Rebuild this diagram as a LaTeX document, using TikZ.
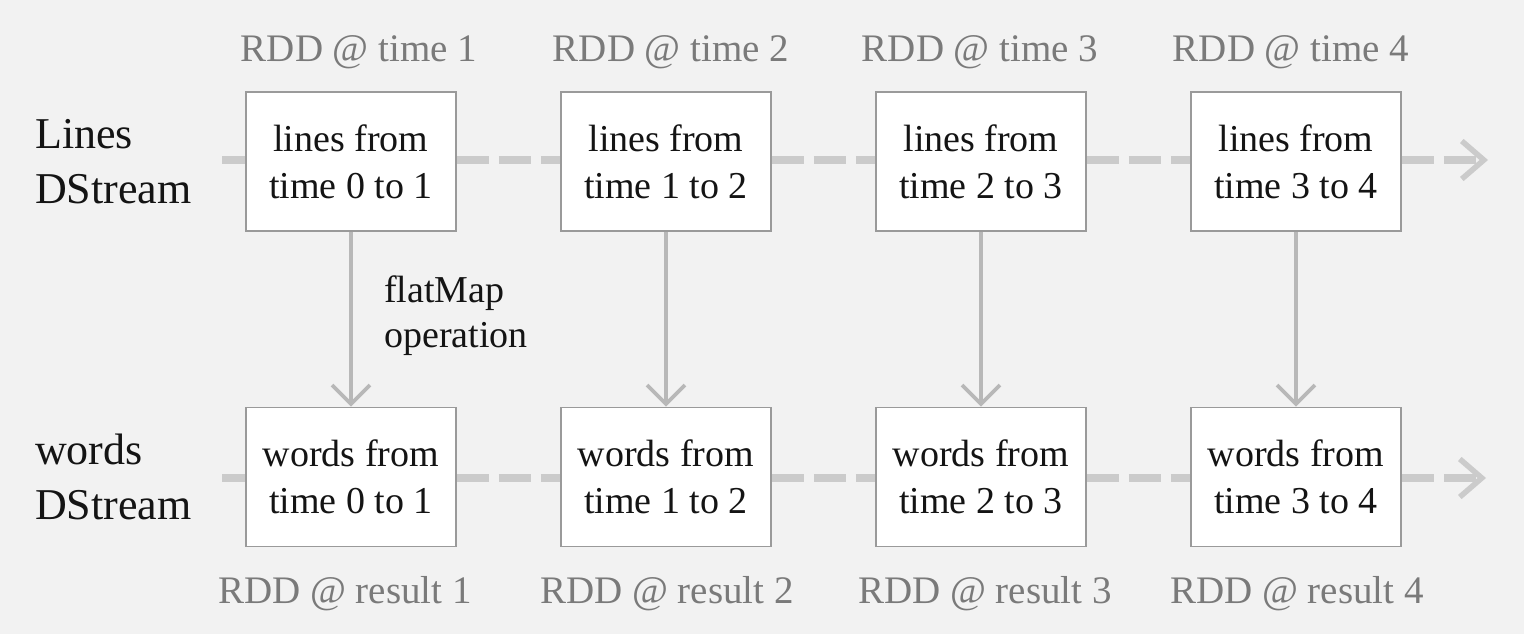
\documentclass[tikz,border=0pt]{standalone}
\usepackage{fontspec}
\setmainfont{Liberation Serif}
\usetikzlibrary{arrows.meta}
\definecolor{bgc}{HTML}{F2F2F2}
\definecolor{boxline}{HTML}{9A9A9A}
\definecolor{dashc}{HTML}{CBCBCB}
\definecolor{varr}{HTML}{B8B8B8}
\definecolor{lblc}{HTML}{7A7A7A}
\definecolor{txtc}{HTML}{141414}
\tikzset{
  rddbox/.style={draw=boxline, line width=1.6pt, fill=white, minimum width=210pt, minimum height=139pt,
    inner sep=0pt, align=center, text=txtc, font=\fontsize{38}{47}\selectfont},
  rddlabel/.style={anchor=base, inner sep=0pt, text=lblc, font=\fontsize{39}{47}\selectfont},
  streamlabel/.style={anchor=base west, inner sep=0pt, text=txtc, font=\fontsize{44}{55}\selectfont},
  oplabel/.style={anchor=base west, inner sep=0pt, text=txtc, font=\fontsize{38}{46}\selectfont},
  timeline/.style={draw=dashc, line width=8pt, dash pattern=on 32pt off 10pt},
  timearrow/.style={draw=dashc, line width=8pt, dash pattern=on 32pt off 10pt,
    -{Straight Barb[length=22pt,width=38pt,line width=5.5pt]}},
  flowarrow/.style={draw=varr, line width=3.8pt, -{Straight Barb[length=19pt,width=38pt,line width=3.8pt]}}
}
\begin{document}
\begin{tikzpicture}[x=1pt,y=-1pt]
\useasboundingbox[fill=bgc] (0,0) rectangle (1524,634);
% stream labels
\node[streamlabel] (l1) at (35,148) {Lines};
\node[streamlabel] (l2) at (35,203) {DStream};
\node[streamlabel] (w1) at (35,464) {words};
\node[streamlabel] (w2) at (35,519) {DStream};
% timeline endpoints
\coordinate (ts) at (222,160);
\coordinate (te) at (1488,160);
\coordinate (bs) at (222,478);
\coordinate (be) at (1486,478);
% boxes
\node[rddbox] (a1) at (351,161.5) {lines from\\time 0 to 1};
\node[rddbox] (a2) at (666,161.5) {lines from\\time 1 to 2};
\node[rddbox] (a3) at (981,161.5) {lines from\\time 2 to 3};
\node[rddbox] (a4) at (1296,161.5) {lines from\\time 3 to 4};
\node[rddbox] (b1) at (351,477) {words from\\time 0 to 1};
\node[rddbox] (b2) at (666,477) {words from\\time 1 to 2};
\node[rddbox] (b3) at (981,477) {words from\\time 2 to 3};
\node[rddbox] (b4) at (1296,477) {words from\\time 3 to 4};
% dashed timelines
\draw[timeline] (ts) -- (a1.west |- ts);
\draw[timeline] (a1.east |- ts) -- (a2.west |- ts);
\draw[timeline] (a2.east |- ts) -- (a3.west |- ts);
\draw[timeline] (a3.east |- ts) -- (a4.west |- ts);
\draw[timearrow] (a4.east |- ts) -- (te);
\draw[timeline] (bs) -- (b1.west |- bs);
\draw[timeline] (b1.east |- bs) -- (b2.west |- bs);
\draw[timeline] (b2.east |- bs) -- (b3.west |- bs);
\draw[timeline] (b3.east |- bs) -- (b4.west |- bs);
\draw[timearrow] (b4.east |- bs) -- (be);
% vertical arrows
\draw[flowarrow] (a1.south) -- (b1.north);
\draw[flowarrow] (a2.south) -- (b2.north);
\draw[flowarrow] (a3.south) -- (b3.north);
\draw[flowarrow] (a4.south) -- (b4.north);
% operation label
\node[oplabel] (op1) at (384,302) {flatMap};
\node[oplabel] (op2) at (384,347) {operation};
% RDD labels
\node[rddlabel] (t1) at (359,62) {RDD @ time 1};
\node[rddlabel] (t2) at (671,62) {RDD @ time 2};
\node[rddlabel] (t3) at (980,62) {RDD @ time 3};
\node[rddlabel] (t4) at (1291,62) {RDD @ time 4};
\node[rddlabel] (r1) at (345,603) {RDD @ result 1};
\node[rddlabel] (r2) at (667,603) {RDD @ result 2};
\node[rddlabel] (r3) at (985,603) {RDD @ result 3};
\node[rddlabel] (r4) at (1297,603) {RDD @ result 4};
\end{tikzpicture}
\end{document}
